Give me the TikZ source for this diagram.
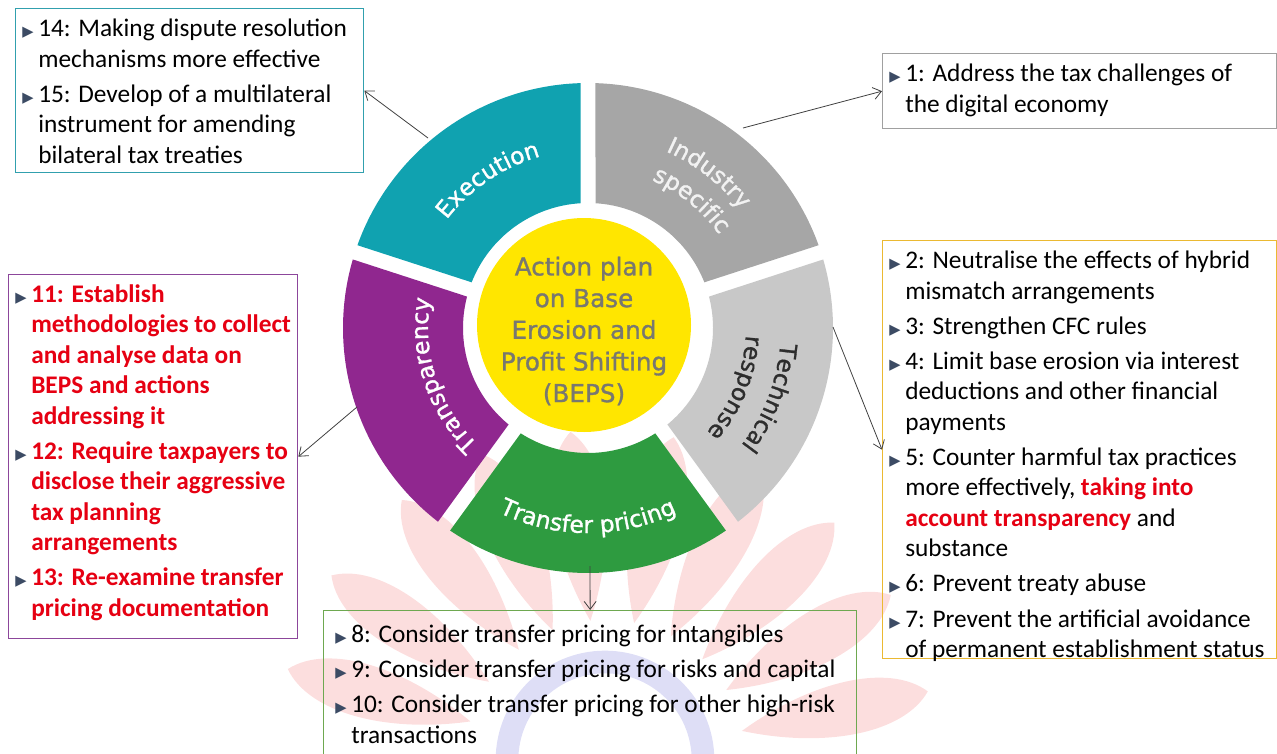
\documentclass[tikz,border=0pt]{standalone}
\usepackage{xcolor}
\usepackage{fontspec}
\setmainfont{Carlito}
\newfontfamily\ringfont[FakeBold=1.2]{DejaVu Sans}
\newfontfamily\symfont{DejaVu Sans}
\usetikzlibrary{positioning,arrows.meta,decorations.text}

\definecolor{execc}{RGB}{16,162,176}
\definecolor{indc}{RGB}{166,166,166}
\definecolor{techc}{RGB}{200,200,200}
\definecolor{tranc}{RGB}{46,155,64}
\definecolor{transpc}{RGB}{144,39,143}
\definecolor{yelc}{RGB}{255,230,0}
\definecolor{centc}{RGB}{120,120,112}
\definecolor{techtxt}{RGB}{45,45,45}
\definecolor{indtxt}{RGB}{242,242,242}
\definecolor{execbd}{RGB}{49,160,174}
\definecolor{indbd}{RGB}{160,160,160}
\definecolor{techbd}{RGB}{235,185,50}
\definecolor{transpbd}{RGB}{140,70,155}
\definecolor{tranbd}{RGB}{110,168,80}
\definecolor{redc}{RGB}{230,0,18}
\definecolor{bulc}{RGB}{60,75,100}
\definecolor{arrc}{RGB}{64,64,64}
\definecolor{pinkc}{RGB}{252,222,222}
\definecolor{bluec}{RGB}{222,222,246}

\newcommand{\bul}{\rule{0pt}{13pt}\makebox[12pt][l]{\raisebox{0pt}{\textcolor{bulc}{\symfont\fontsize{11}{11}\selectfont ▶}}}}
\newcommand{\ind}{\hspace*{12pt}}
\newcommand{\hl}[1]{\textcolor{redc}{\bfseries #1}}

\begin{document}
\begin{tikzpicture}[x=0.75pt, y=0.75pt,
    box/.style={draw, line width=1pt, inner sep=0pt, anchor=north west},
    txt/.style={anchor=north west, align=left, inner sep=0pt, font=\fontsize{19}{22.9}\selectfont},
    arr/.style={-{Straight Barb[length=6pt,width=9pt]}, draw=arrc, line width=0.6pt}]
    \clip (0,0) rectangle (1277,-753);

    % watermark
    \begin{scope}[shift={(605,-760)}]
        \foreach \a in {12,30,46,62,78,96,112,128,146,164}
            \fill[pinkc] (\a:140) .. controls ({\a+9}:220) and ({\a+7}:300) .. (\a:330) .. controls ({\a-7}:300) and ({\a-9}:220) .. (\a:140);
        \draw[bluec, line width=17pt] (0:98) arc[start angle=0, end angle=180, radius=98];
    \end{scope}

    % ring
    \begin{scope}[shift={(588,-328)}]
        \foreach \s/\e/\c in {18/90/indc, 90/162/execc, 162/234/transpc, 234/306/tranc, 306/378/techc}
            \fill[\c] ({\s+1.75}:245) arc[start angle={\s+1.75}, end angle={\e-1.75}, radius=245] -- ({\e-3.44}:125) arc[start angle={\e-3.44}, end angle={\s+3.44}, radius=125] -- cycle;
        \path[decorate, decoration={text along path, text align=center, text color=white,
            text={|\ringfont\fontsize{17.5}{17.5}\selectfont|Execution}}] (160:178) arc[start angle=160, end angle=88, radius=178];
        \path[decorate, decoration={text along path, text align=center, text color=indtxt,
            text={|\ringfont\fontsize{17.5}{17.5}\selectfont|Industry}}] (88:193) arc[start angle=88, end angle=16, radius=193];
        \path[decorate, decoration={text along path, text align=center, text color=indtxt,
            text={|\ringfont\fontsize{17.5}{17.5}\selectfont|specific}}] (87:161) arc[start angle=87, end angle=15, radius=161];
        \path[decorate, decoration={text along path, text align=center, text color=techtxt,
            text={|\ringfont\fontsize{17.5}{17.5}\selectfont|Technical}}] (15:193) arc[start angle=15, end angle=-57, radius=193];
        \path[decorate, decoration={text along path, text align=center, text color=techtxt,
            text={|\ringfont\fontsize{17.5}{17.5}\selectfont|response}}] (14:158) arc[start angle=14, end angle=-58, radius=158];
        \path[decorate, decoration={text along path, text align=center, text color=white,
            text={|\ringfont\fontsize{17.5}{17.5}\selectfont|Transfer pricing}}] (-126:205) arc[start angle=-126, end angle=-54, radius=205];
        \path[decorate, decoration={text along path, text align=center, text color=white,
            text={|\ringfont\fontsize{17.5}{17.5}\selectfont|Transparency}}] (234:160) arc[start angle=234, end angle=162, radius=160];
        \node (beps) [circle, fill=yelc, minimum size=160.5pt, inner sep=0pt] at (-4,3) {};
        \node (bepstext) [align=center, text=centc, font=\ringfont\fontsize{18.5}{23.75}\selectfont]
            at ([yshift=-4.5pt]beps.center) {Action plan\\on Base\\Erosion and\\Profit Shifting\\(BEPS)};
    \end{scope}

    % boxes
    \node (execbox) [box, draw=execbd, minimum width=261pt, minimum height=123pt] at (15,-8) {};
    \node [txt] at ([xshift=5.25pt, yshift=-8pt]execbox.north west) {\bul 14: Making dispute resolution\\
        \ind mechanisms more effective\\[3.4pt]
        \bul 15: Develop of a multilateral\\
        \ind instrument for amending\\
        \ind bilateral tax treaties};

    \node (indbox) [box, draw=indbd, minimum width=295.5pt, minimum height=56.25pt] at (882,-53) {};
    \node [txt] at ([xshift=5.25pt, yshift=-8pt]indbox.north west) {\bul 1: Address the tax challenges of\\
        \ind the digital economy};

    \node (techbox) [box, draw=techbd, minimum width=295.5pt, minimum height=313.5pt] at (882,-240) {};
    \node [txt] at ([xshift=5.25pt, yshift=-8pt]techbox.north west) {\bul 2: Neutralise the effects of hybrid\\
        \ind mismatch arrangements\\[3.4pt]
        \bul 3: Strengthen CFC rules\\[3.4pt]
        \bul 4: Limit base erosion via interest\\
        \ind deductions and other financial\\
        \ind payments\\[3.4pt]
        \bul 5: Counter harmful tax practices\\
        \ind more effectively, \hl{taking into}\\
        \ind \hl{account transparency} and\\
        \ind substance\\[3.4pt]
        \bul 6: Prevent treaty abuse\\[3.4pt]
        \bul 7: Prevent the artificial avoidance\\
        \ind of permanent establishment status};

    \node (transpbox) [box, draw=transpbd, minimum width=216.75pt, minimum height=273pt] at (8,-274) {};
    \node [txt, text=redc, font=\fontsize{19}{22.9}\selectfont\bfseries] at ([xshift=5.25pt, yshift=-7.5pt]transpbox.north west) {\bul 11: Establish\\
        \ind methodologies to collect\\
        \ind and analyse data on\\
        \ind BEPS and actions\\
        \ind addressing it\\[3.4pt]
        \bul 12: Require taxpayers to\\
        \ind disclose their aggressive\\
        \ind tax planning\\
        \ind arrangements\\[3.4pt]
        \bul 13: Re-examine transfer\\
        \ind pricing documentation};

    \node (tranbox) [box, draw=tranbd, minimum width=399.75pt, minimum height=120pt] at (323,-610) {};
    \node [txt] at ([xshift=9pt, yshift=-11pt]tranbox.north west) {\bul 8: Consider transfer pricing for intangibles\\[3.4pt]
        \bul 9: Consider transfer pricing for risks and capital\\[3.4pt]
        \bul 10: Consider transfer pricing for other high-risk\\
        \ind transactions};

    % connectors
    \coordinate (execpt) at (428,-138);
    \coordinate (indpt) at (743,-128);
    \coordinate (techpt) at (833,-327);
    \coordinate (transppt) at (357,-407);
    \coordinate (tranpt) at (590,-566);
    \draw[arr] (execpt) -- (execbox.east);
    \draw[arr] (indpt) -- (indbox.west);
    \draw[arr] (techpt) -- (techbox.west);
    \draw[arr] (transppt) -- (transpbox.east);
    \draw[arr] (tranpt) -- (tranbox.north);
\end{tikzpicture}
\end{document}
